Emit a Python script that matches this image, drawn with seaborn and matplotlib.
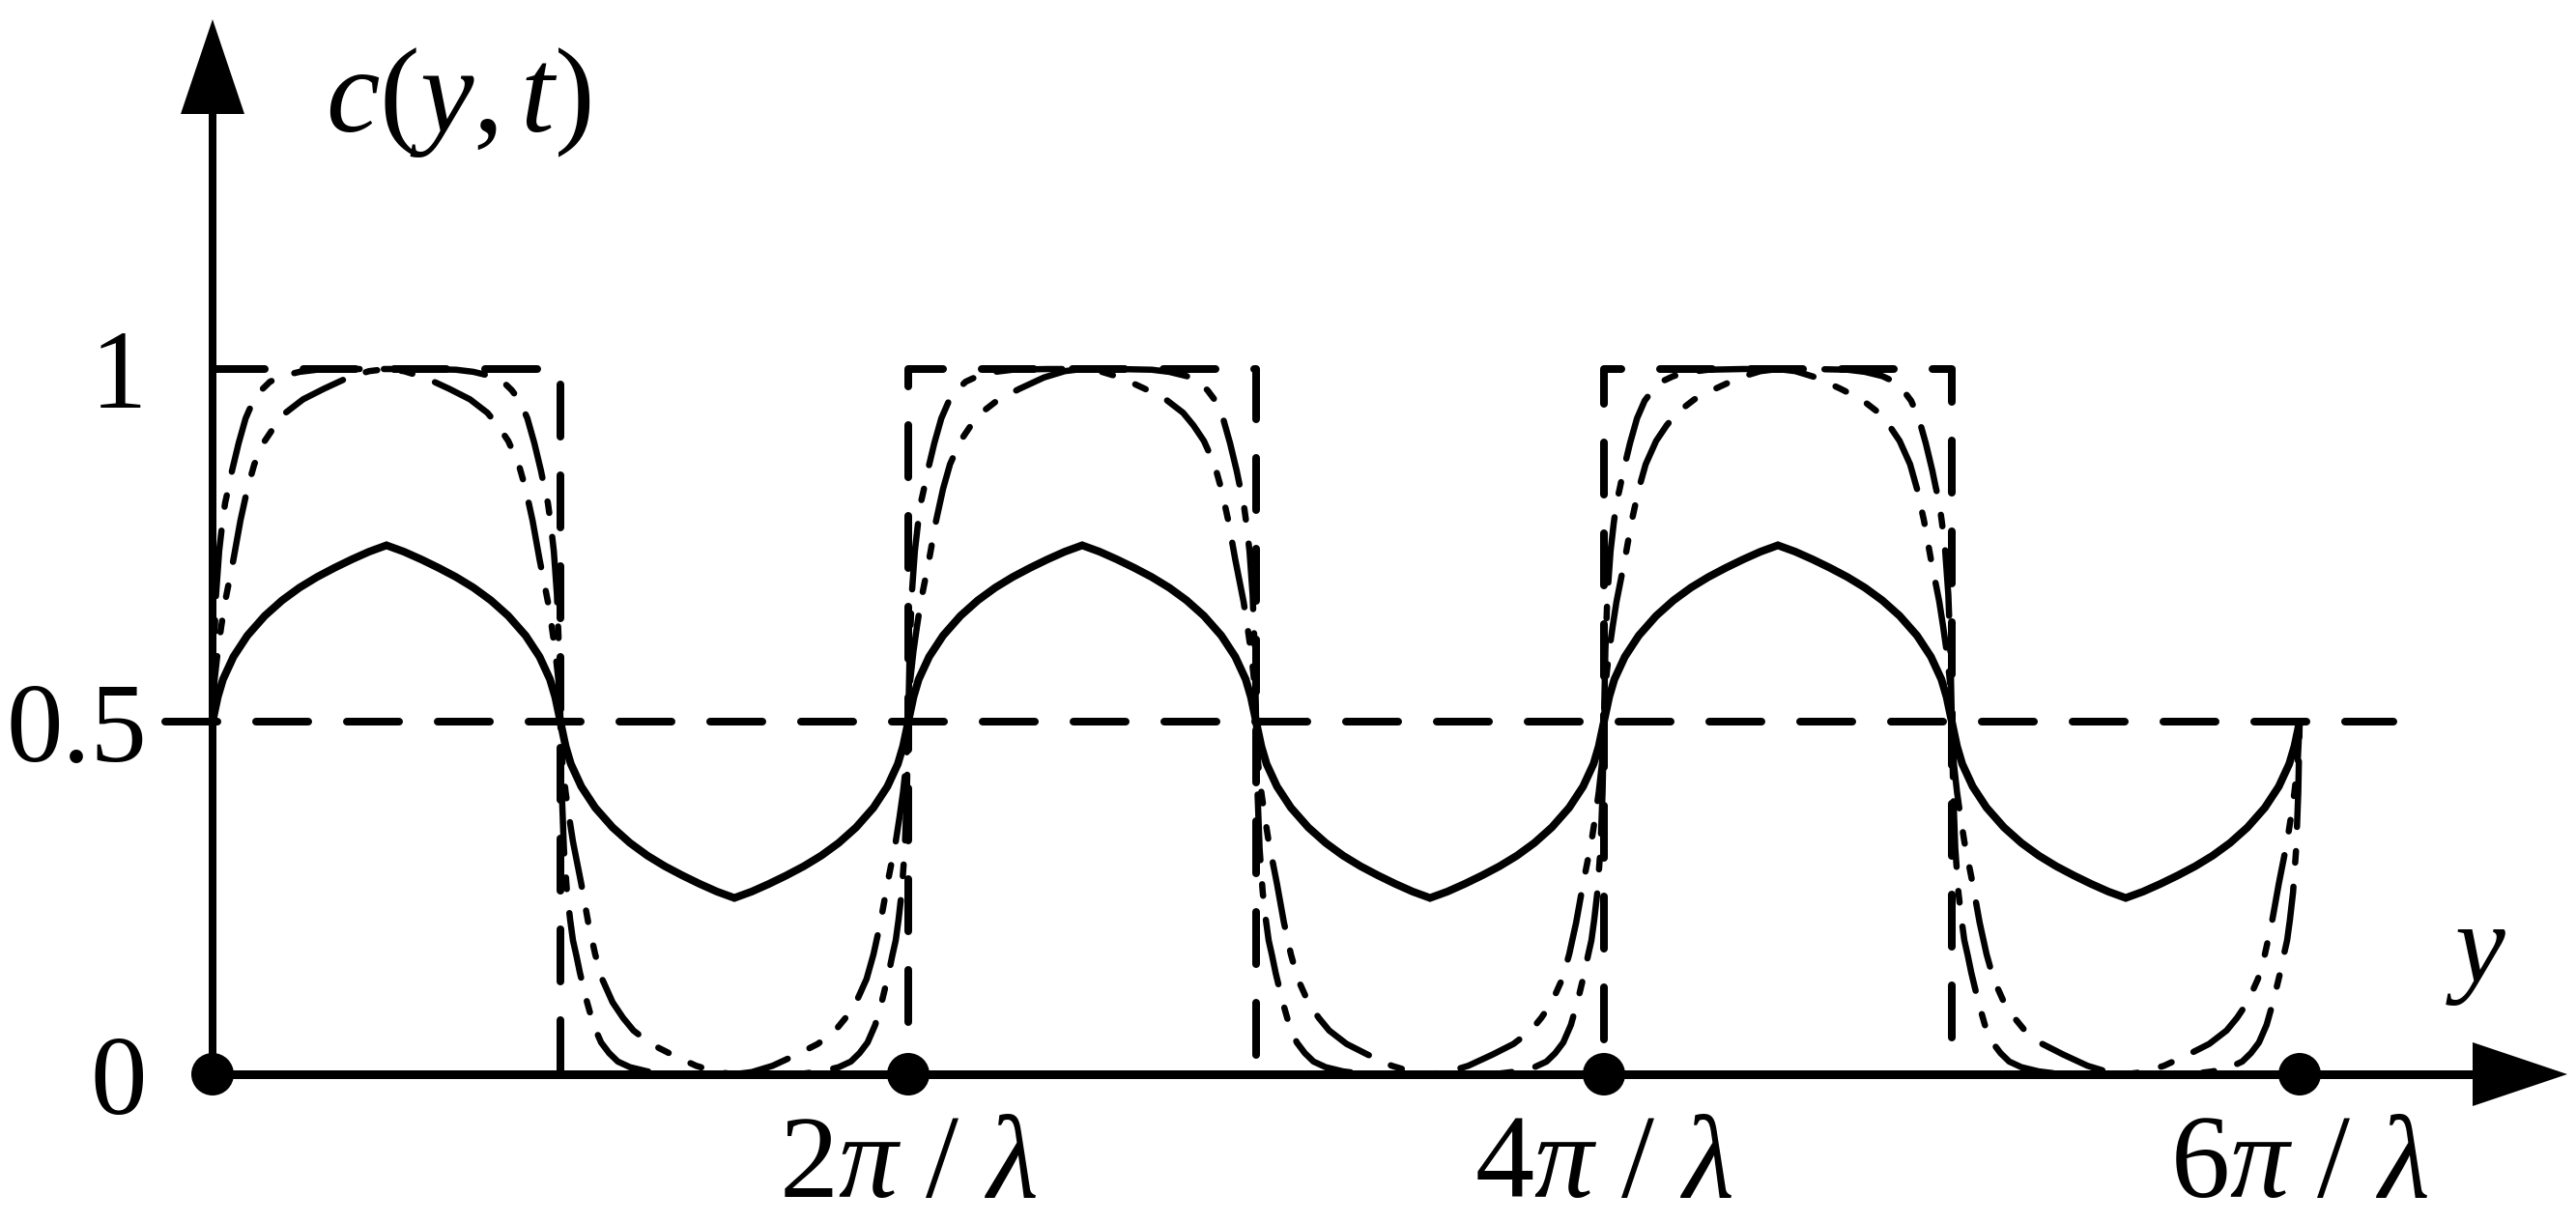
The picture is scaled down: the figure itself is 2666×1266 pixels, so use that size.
import numpy as np
import pandas as pd
import matplotlib
matplotlib.use("Agg")
import matplotlib.pyplot as plt
import seaborn as sns

# ---------------- data (x in units of pi/lambda) ----------------
# solid curve, one period
solid_u = [0, 0.015, 0.03, 0.06, 0.1, 0.15, 0.2, 0.25, 0.3, 0.35, 0.4, 0.45, 0.5,
           0.55, 0.6, 0.65, 0.7, 0.75, 0.8, 0.85, 0.9, 0.94, 0.97, 0.985, 1.0,
           1.015, 1.03, 1.06, 1.1, 1.15, 1.2, 1.25, 1.3, 1.35, 1.4, 1.45, 1.5,
           1.55, 1.6, 1.65, 1.7, 1.75, 1.8, 1.85, 1.9, 1.94, 1.97, 1.985, 2.0]
solid_v = [0.5, 0.535, 0.56, 0.592, 0.622, 0.65, 0.672, 0.69, 0.705, 0.718, 0.73, 0.741, 0.75,
           0.741, 0.73, 0.718, 0.705, 0.69, 0.672, 0.65, 0.622, 0.592, 0.56, 0.535, 0.5,
           0.465, 0.44, 0.408, 0.378, 0.35, 0.328, 0.31, 0.295, 0.282, 0.27, 0.259, 0.25,
           0.259, 0.27, 0.282, 0.295, 0.31, 0.328, 0.35, 0.378, 0.408, 0.44, 0.465, 0.5]

# dash-dot curve (steeper), one period
c1_u = [0, 0.004, 0.01, 0.019, 0.028, 0.036, 0.046, 0.056, 0.075, 0.095, 0.117, 0.14, 0.165,
        0.2, 0.25, 0.3, 0.4, 0.5, 0.6, 0.7, 0.75, 0.8, 0.835, 0.86, 0.883, 0.905, 0.925,
        0.944, 0.954, 0.964, 0.972, 0.981, 0.99, 0.996, 1.0,
        1.004, 1.01, 1.019, 1.028, 1.036, 1.046, 1.056, 1.075, 1.095, 1.117, 1.14, 1.165,
        1.2, 1.25, 1.3, 1.4, 1.5, 1.6, 1.7, 1.75, 1.8, 1.835, 1.86, 1.883, 1.905, 1.925,
        1.944, 1.954, 1.964, 1.972, 1.981, 1.99, 1.996, 2.0]
c1_v = [0.5, 0.6, 0.68, 0.742, 0.781, 0.81, 0.832, 0.856, 0.895, 0.93, 0.955, 0.97, 0.982,
        0.99, 0.996, 0.999, 1.0, 1.0, 1.0, 0.999, 0.996, 0.99, 0.982, 0.97, 0.955, 0.93, 0.895,
        0.856, 0.832, 0.81, 0.781, 0.742, 0.68, 0.6, 0.5,
        0.4, 0.32, 0.258, 0.219, 0.19, 0.168, 0.144, 0.105, 0.07, 0.045, 0.03, 0.018,
        0.01, 0.004, 0.001, 0.0, 0.0, 0.0, 0.001, 0.004, 0.01, 0.018, 0.03, 0.045, 0.07, 0.105,
        0.144, 0.168, 0.19, 0.219, 0.258, 0.32, 0.4, 0.5]

# dash-dot-dot curve (rounder), one period
c2_u = [0, 0.006, 0.015, 0.025, 0.036, 0.06, 0.08, 0.1, 0.12, 0.15, 0.18, 0.21, 0.26, 0.32,
        0.39, 0.45, 0.5, 0.55, 0.61, 0.68, 0.74, 0.79, 0.82, 0.85, 0.88, 0.9, 0.92, 0.94,
        0.964, 0.975, 0.985, 0.994, 1.0,
        1.006, 1.015, 1.025, 1.036, 1.06, 1.08, 1.1, 1.12, 1.15, 1.18, 1.21, 1.26, 1.32,
        1.39, 1.45, 1.5, 1.55, 1.61, 1.68, 1.74, 1.79, 1.82, 1.85, 1.88, 1.9, 1.92, 1.94,
        1.964, 1.975, 1.985, 1.994, 2.0]
c2_v = [0.5, 0.56, 0.6, 0.635, 0.67, 0.73, 0.785, 0.83, 0.865, 0.898, 0.92, 0.938, 0.957, 0.972,
        0.988, 0.997, 1.0, 0.997, 0.988, 0.972, 0.957, 0.938, 0.92, 0.898, 0.865, 0.83, 0.785, 0.73,
        0.67, 0.635, 0.6, 0.56, 0.5,
        0.44, 0.4, 0.365, 0.33, 0.27, 0.215, 0.17, 0.135, 0.102, 0.08, 0.062, 0.043, 0.028,
        0.012, 0.003, 0.0, 0.003, 0.012, 0.028, 0.043, 0.062, 0.08, 0.102, 0.135, 0.17, 0.215, 0.27,
        0.33, 0.365, 0.4, 0.44, 0.5]

n_periods = 3

# initial square profile
square_u = [0, 1, 1, 2, 2, 3, 3, 4, 4, 5, 5, 6]
square_v = [1, 1, 0, 0, 1, 1, 0, 0, 1, 1, 0, 0]

# mean level line
half_u = [-0.136, 6.27]
half_v = [0.5, 0.5]

# marked points on the y axis
dot_u = [0, 2, 4, 6]
dot_v = [0, 0, 0, 0]

xtick_pos = [2, 4, 6]
xtick_labels = [r'$2\pi\ /\ \lambda$', r'$4\pi\ /\ \lambda$', r'$6\pi\ /\ \lambda$']
ytick_pos = [0, 0.5, 1]
ytick_labels = ['0', '0.5', '1']
ylabel_text = r'$c(y,t)$'
xlabel_text = r'$y$'


def tile(u, v, n):
    uu, vv = [], []
    for k in range(n):
        start = 0 if k == 0 else 1
        uu += [x + 2 * k for x in u[start:]]
        vv += v[start:]
    return uu, vv


# ---------------- style ----------------
sns.set_style("white")
plt.rcParams['font.family'] = ['Liberation Serif', 'DejaVu Serif']
plt.rcParams['mathtext.fontset'] = 'custom'
plt.rcParams['mathtext.rm'] = 'Liberation Serif'
plt.rcParams['mathtext.it'] = 'Liberation Serif:italic'
plt.rcParams['mathtext.bf'] = 'Liberation Serif:bold'
plt.rcParams['lines.scale_dashes'] = False
plt.rcParams['text.color'] = 'black'

W, H = 2666, 1266
X0, Y0 = 220, 1112          # pixel position of origin
SX, SY = 360, 730           # pixels per unit

fig = plt.figure(figsize=(W / 100, H / 100), dpi=100)
ax = fig.add_axes([0, 0, 1, 1])
ax.set_xlim(-X0 / SX, (W - X0) / SX)
ax.set_ylim((Y0 - H) / SY, Y0 / SY)
ax.axis('off')

PT = 72 / 100  # points per pixel


def draw(u, v, lw_px, dashes=None, z=3):
    df = pd.DataFrame({'u': u, 'v': v})
    n0 = len(ax.lines)
    sns.lineplot(data=df, x='u', y='v', ax=ax, color='black', lw=lw_px * PT,
                 sort=False, estimator=None, zorder=z)
    line = ax.lines[n0]
    if dashes is not None:
        line.set_dashes(dashes)
        line.set_dash_capstyle('round')
    else:
        line.set_solid_capstyle('round')
    line.set_solid_joinstyle('miter')
    line.set_clip_on(False)
    return line


# axes lines
x_tip, y_tip = (2657 - X0) / SX, (Y0 - 20) / SY
head_len_px, head_w_px = 98, 66
draw([0, x_tip - 0.5 * head_len_px / SX], [0, 0], 9, z=4)
draw([0, 0], [0, y_tip - 0.5 * head_len_px / SY], 8, z=4)
for tip, tail in [((x_tip, 0), (x_tip - head_len_px / SX, 0)),
                  ((0, y_tip), (0, y_tip - head_len_px / SY))]:
    ax.annotate('', xy=tip, xytext=tail, xycoords='data',
                arrowprops=dict(arrowstyle='-|>,head_length=%.2f,head_width=%.2f'
                                % (head_len_px * PT, head_w_px / 2 * PT),
                                mutation_scale=1, lw=0, fc='black', ec='black',
                                shrinkA=0, shrinkB=0), zorder=5)

# curves
draw(half_u, half_v, 8, dashes=(54 * PT, 40 * PT))
draw(square_u, square_v, 8, dashes=(54 * PT, 40 * PT))
u1, v1 = tile(c1_u, c1_v, n_periods)
draw(u1, v1, 6.5, dashes=(68 * PT, 25 * PT, 12 * PT, 25 * PT))
u2, v2 = tile(c2_u, c2_v, n_periods)
draw(u2, v2, 6.5, dashes=(68 * PT, 25 * PT, 12 * PT, 25 * PT, 12 * PT, 25 * PT))
us, vs = tile(solid_u, solid_v, n_periods)
draw(us, vs, 8)

# dots
sns.scatterplot(x=dot_u, y=dot_v, ax=ax, s=(44 * PT) ** 2, color='black',
                edgecolor='none', zorder=6, clip_on=False)

# tick labels
FS = 84
for p, lab in zip(ytick_pos, ytick_labels):
    ax.text((152 - X0) / SX, p, lab, fontsize=FS, ha='right', va='center_baseline',
            color='black')
for p, lab in zip(xtick_pos, xtick_labels):
    ax.text(p, (Y0 - 1196) / SY, lab, fontsize=88, ha='center', va='center_baseline',
            color='black')

# axis labels
ax.text((474 - X0) / SX, (Y0 - 106) / SY, ylabel_text, fontsize=90, ha='center', va='center',
        color='black')
ax.text((2563 - X0) / SX, (Y0 - 1016) / SY, xlabel_text, fontsize=FS, ha='center',
        va='baseline', color='black')

fig.savefig('out.png', dpi=100, facecolor='white')
